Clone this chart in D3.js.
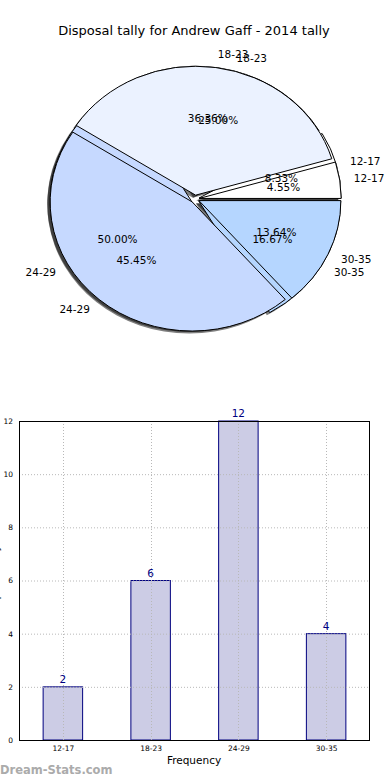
<!DOCTYPE html>
<html><head><meta charset="utf-8">
<script src="https://cdn.jsdelivr.net/npm/d3@7"></script>
<style>body{margin:0;background:#fff;} svg{display:block;font-family:"DejaVu Sans",sans-serif;}</style>
</head><body>
<svg id="c" width="390" height="780"></svg>
<script>
const categories = ["12-17", "18-23", "24-29", "30-35"];
const pieValuesA = [2, 6, 12, 4];
const pieValuesB = [1, 8, 10, 3];
const barValues = [2, 6, 12, 4];
const yTicks = [0, 2, 4, 6, 8, 10, 12];
const sliceColors = ["#ffffff", "#ebf2ff", "#c6d9ff", "#b5d6ff"];
const titleText = "Disposal tally for Andrew Gaff - 2014 tally";

const svg = d3.select("#c");
svg.append("text").attr("x", 194).attr("y", 35).attr("text-anchor", "middle")
  .attr("font-size", 13).text(titleText);

// ---------- Pie ----------
const cx = 195, cy = 199, rx = 142, ry = 129, expl = 0.03;
const pieGen = d3.pie().sort(null).startAngle(Math.PI / 2).endAngle(Math.PI / 2 - 2 * Math.PI);
const arcGen = d3.arc().innerRadius(0).outerRadius(1);
const pies = [pieValuesA, pieValuesB].map(v => pieGen(v));
const pg = svg.append("g");
function off(d) {
  const tm = Math.PI / 2 - (d.startAngle + d.endAngle) / 2; // matplotlib angle
  return [Math.cos(tm), Math.sin(tm)];
}
// shadows first
pies.forEach(arcs => {
  arcs.forEach(d => {
    const [c, s] = off(d);
    const ox = cx + expl * c * rx - 0.02 * rx, oy = cy - expl * s * ry + 0.02 * ry;
    pg.append("path").attr("d", arcGen(d))
      .attr("transform", `translate(${ox},${oy}) scale(${rx},${ry})`)
      .attr("fill", "#000").attr("fill-opacity", 0.5);
  });
});
pies.forEach(arcs => {
  arcs.forEach((d, i) => {
    const [c, s] = off(d);
    const ox = cx + expl * c * rx, oy = cy - expl * s * ry;
    pg.append("path").attr("d", arcGen(d))
      .attr("transform", `translate(${ox},${oy}) scale(${rx},${ry})`)
      .attr("fill", sliceColors[i]).attr("stroke", "#000").attr("stroke-width", 1)
      .attr("vector-effect", "non-scaling-stroke");
  });
});
pies.forEach(arcs => {
  const total = d3.sum(arcs, d => d.value);
  arcs.forEach((d, i) => {
    const [c, s] = off(d);
    const bx = cx + expl * c * rx, by = cy - expl * s * ry;
    pg.append("text").attr("x", bx + 1.1 * c * rx).attr("y", by - 1.1 * s * ry)
      .attr("dy", "0.35em").attr("font-size", 10.5)
      .attr("text-anchor", c > 0 ? "start" : "end").text(categories[i]);
    pg.append("text").attr("x", bx + 0.6 * c * rx).attr("y", by - 0.6 * s * ry)
      .attr("dy", "0.35em").attr("font-size", 10.5).attr("text-anchor", "middle")
      .text((100 * d.value / total).toFixed(2) + "%");
  });
});

// ---------- Bars ----------
const L = 19, R = 370, T = 421, B = 740;
const x = d3.scaleLinear().domain([-0.5, categories.length - 0.5]).range([L, R]);
const y = d3.scaleLinear().domain([0, 12]).range([B, T]);
const bw = 0.45;
const bg = svg.append("g");
bg.selectAll("rect.bar").data(barValues).join("rect").attr("class", "bar")
  .attr("x", (d, i) => x(i - bw / 2)).attr("width", x(bw) - x(0))
  .attr("y", d => y(d)).attr("height", d => y(0) - y(d))
  .attr("fill", "#ccccE5").attr("stroke", "#00007f").attr("stroke-width", 1);
// grid
const grid = bg.append("g").attr("stroke", "#b8b8b8").attr("stroke-dasharray", "1,2").attr("stroke-width", 1);
yTicks.forEach(t => grid.append("line").attr("x1", L).attr("x2", R).attr("y1", y(t) + 0.5).attr("y2", y(t) + 0.5));
categories.forEach((c, i) => grid.append("line").attr("x1", Math.round(x(i)) + 0.5).attr("x2", Math.round(x(i)) + 0.5).attr("y1", T).attr("y2", B));
// frame
bg.append("rect").attr("x", L + 0.5).attr("y", T + 0.5).attr("width", R - L - 1).attr("height", B - T)
  .attr("fill", "none").attr("stroke", "#000").attr("stroke-width", 1);
// axes labels
const yAxis = d3.axisLeft(y).tickValues(yTicks).tickSize(0).tickPadding(6);
bg.append("g").attr("transform", `translate(${L},0)`).call(yAxis)
  .call(g => g.select(".domain").remove())
  .call(g => g.selectAll("text").attr("font-size", 7.5).attr("font-family", "DejaVu Sans"));
const xAxis = d3.axisBottom(x).tickValues(d3.range(categories.length)).tickFormat(i => categories[i]).tickSize(0).tickPadding(6);
bg.append("g").attr("transform", `translate(0,${B})`).call(xAxis)
  .call(g => g.select(".domain").remove())
  .call(g => g.selectAll("text").attr("font-size", 7.5).attr("font-family", "DejaVu Sans"));
// value labels
bg.selectAll("text.val").data(barValues).join("text").attr("class", "val")
  .attr("x", (d, i) => x(i)).attr("y", d => y(d) - 4).attr("text-anchor", "middle")
  .attr("font-size", 10.5).attr("fill", "#00007f").text(d => d);
svg.append("text").attr("x", 194).attr("y", 764).attr("text-anchor", "middle")
  .attr("font-size", 10.5).text("Frequency");
svg.append("text").attr("transform", `translate(-1,${(T + B) / 2}) rotate(-90)`)
  .attr("text-anchor", "middle").attr("font-size", 10.5).text("Disposal Tally");
svg.append("text").attr("x", 0).attr("y", 774).attr("font-size", 11.5).attr("font-weight", "bold")
  .attr("fill", "#ababab").text("Dream-Stats.com");
</script>
</body></html>
